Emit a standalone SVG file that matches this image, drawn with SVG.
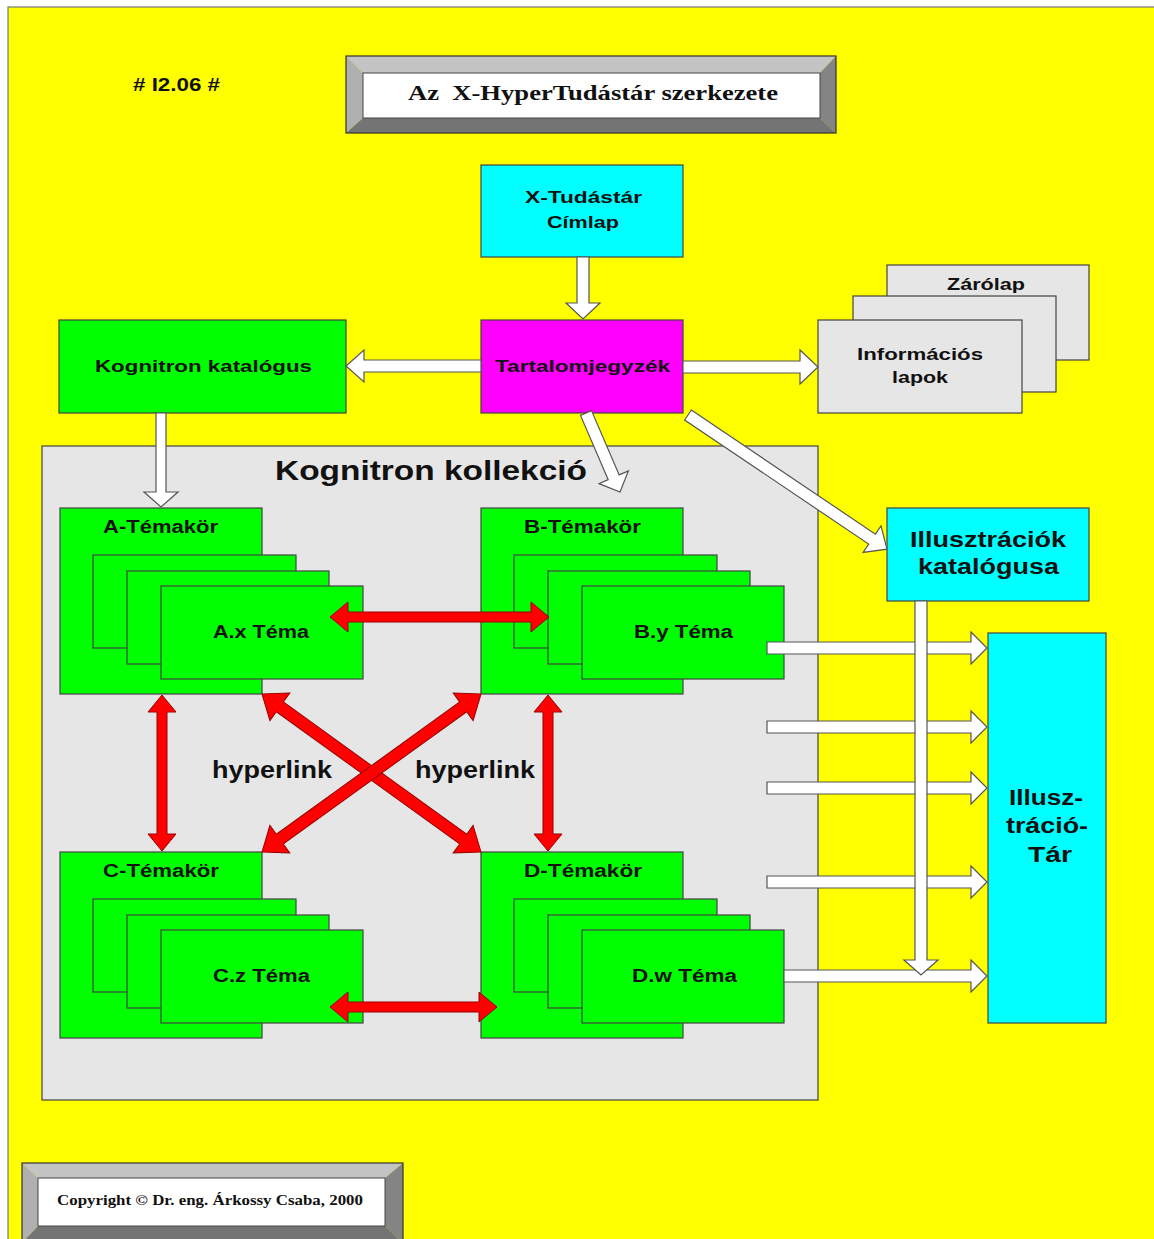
<svg xmlns="http://www.w3.org/2000/svg" width="1154" height="1239" viewBox="0 0 1154 1239">
  <style>
    .lbl { font-family: "Liberation Sans", Arial, sans-serif; font-weight: bold; fill: #111; }
    .ser { font-family: "Liberation Serif", "Times New Roman", serif; font-weight: bold; fill: #111; }
    .box { stroke: #444; stroke-width: 1.2; }
    .green { fill: #00FF00; }
    .cyan { fill: #00FFFF; }
    .mag { fill: #FF00FF; }
    .grey { fill: #E6E6E6; }
    .warr { fill: #FFFFFF; stroke: #555; stroke-width: 1.2; stroke-linejoin: miter; }
    .rarr { fill: #FF0000; stroke: #990000; stroke-width: 1; stroke-linejoin: miter; }
    .bev-t { fill: #C4C4C4; }
    .bev-l { fill: #B0B0B0; }
    .bev-r { fill: #848484; }
    .bev-b { fill: #747474; }
  </style>

  <!-- page -->
  <rect x="8" y="7" width="1152" height="1240" fill="#FFFF00" stroke="#777" stroke-width="1.2"/>

  <text class="lbl" x="133" y="91" font-size="19" textLength="87" lengthAdjust="spacingAndGlyphs">
# I2.06 #</text>

  <!-- title plate -->
  <g id="title">
    <polygon class="bev-t" points="346,56 836,56 820,73 363,73"/>
    <polygon class="bev-l" points="346,56 363,73 363,118 346,133"/>
    <polygon class="bev-r" points="836,56 836,133 820,118 820,73"/>
    <polygon class="bev-b" points="346,133 363,118 820,118 836,133"/>
    <rect x="363" y="73" width="457" height="45" fill="#FFFFFF" stroke="#444" stroke-width="1"/>
    <rect x="346" y="56" width="490" height="77" fill="none" stroke="#333" stroke-width="1.2"/>
    <text class="ser" x="408" y="100" font-size="21" textLength="370" lengthAdjust="spacingAndGlyphs">Az&#160; X-HyperTudástár szerkezete</text>
  </g>

  <g id="cimlap">
    <rect class="box cyan" x="481" y="165" width="202" height="92"/>
    <text class="lbl" x="525" y="203" font-size="17" textLength="117" lengthAdjust="spacingAndGlyphs">X-Tudástár</text>
    <text class="lbl" x="547" y="228" font-size="17" textLength="72" lengthAdjust="spacingAndGlyphs">Címlap</text>
  </g>

  <g id="tartalomjegyzek">
    <rect class="box mag" x="481" y="320" width="202" height="93"/>
    <text class="lbl" x="495" y="372" font-size="17" textLength="175" lengthAdjust="spacingAndGlyphs" fill="#220022">Tartalomjegyzék</text>
  </g>

  <g id="kognitron-katalogus">
    <rect class="box green" x="59" y="320" width="287" height="93"/>
    <text class="lbl" x="95" y="372" font-size="17" textLength="217" lengthAdjust="spacingAndGlyphs">Kognitron katalógus</text>
  </g>

  <g id="informacios-lapok">
    <rect class="box grey" x="887" y="265" width="202" height="95"/>
    <rect class="box grey" x="853" y="296" width="203" height="96"/>
    <rect class="box grey" x="818" y="320" width="204" height="93"/>
    <text class="lbl" x="947" y="290" font-size="17" textLength="78" lengthAdjust="spacingAndGlyphs">Zárólap</text>
    <text class="lbl" x="857" y="360" font-size="17" textLength="126" lengthAdjust="spacingAndGlyphs">Információs</text>
    <text class="lbl" x="892" y="383" font-size="17" textLength="56" lengthAdjust="spacingAndGlyphs">lapok</text>
  </g>

  <g id="illusztraciok-katalogusa">
    <rect class="box cyan" x="887" y="508" width="202" height="93"/>
    <text class="lbl" x="910" y="547" font-size="22" textLength="156" lengthAdjust="spacingAndGlyphs">Illusztrációk</text>
    <text class="lbl" x="918" y="574" font-size="22" textLength="141" lengthAdjust="spacingAndGlyphs">katalógusa</text>
  </g>

  <g id="illusztracio-tar">
    <rect class="box cyan" x="988" y="633" width="118" height="390"/>
    <text class="lbl" x="1009" y="805" font-size="22" textLength="74" lengthAdjust="spacingAndGlyphs">Illusz-</text>
    <text class="lbl" x="1006" y="833" font-size="22" textLength="82" lengthAdjust="spacingAndGlyphs">tráció-</text>
    <text class="lbl" x="1028" y="862" font-size="22" textLength="44" lengthAdjust="spacingAndGlyphs">Tár</text>
  </g>

  <g id="kognitron-kollekcio">
    <rect class="box grey" x="42" y="446" width="776" height="654"/>
    <text class="lbl" x="275" y="480" font-size="28" textLength="312" lengthAdjust="spacingAndGlyphs">Kognitron kollekció</text>
  </g>

  <!-- topic stacks: main card plus three theme sheets -->
  <g id="temakor-a">
    <rect class="box green" x="60" y="508" width="202" height="186"/>
    <rect class="box green" x="93" y="555" width="203" height="93"/>
    <rect class="box green" x="127" y="571" width="202" height="93"/>
    <rect class="box green" x="161" y="586" width="202" height="93"/>
    <text class="lbl" x="103" y="533" font-size="18" textLength="115" lengthAdjust="spacingAndGlyphs">A-Témakör</text>
    <text class="lbl" x="213" y="638" font-size="18" textLength="96" lengthAdjust="spacingAndGlyphs">A.x Téma</text>
  </g>

  <g id="temakor-b">
    <rect class="box green" x="481" y="508" width="202" height="186"/>
    <rect class="box green" x="514" y="555" width="203" height="93"/>
    <rect class="box green" x="548" y="571" width="202" height="93"/>
    <rect class="box green" x="582" y="586" width="202" height="93"/>
    <text class="lbl" x="524" y="533" font-size="18" textLength="117" lengthAdjust="spacingAndGlyphs">B-Témakör</text>
    <text class="lbl" x="634" y="638" font-size="18" textLength="99" lengthAdjust="spacingAndGlyphs">B.y Téma</text>
  </g>

  <g id="temakor-c">
    <rect class="box green" x="60" y="852" width="202" height="186"/>
    <rect class="box green" x="93" y="899" width="203" height="93"/>
    <rect class="box green" x="127" y="915" width="202" height="93"/>
    <rect class="box green" x="161" y="930" width="202" height="93"/>
    <text class="lbl" x="103" y="877" font-size="18" textLength="116" lengthAdjust="spacingAndGlyphs">C-Témakör</text>
    <text class="lbl" x="213" y="982" font-size="18" textLength="97" lengthAdjust="spacingAndGlyphs">C.z Téma</text>
  </g>

  <g id="temakor-d">
    <rect class="box green" x="481" y="852" width="202" height="186"/>
    <rect class="box green" x="514" y="899" width="203" height="93"/>
    <rect class="box green" x="548" y="915" width="202" height="93"/>
    <rect class="box green" x="582" y="930" width="202" height="93"/>
    <text class="lbl" x="524" y="877" font-size="18" textLength="118" lengthAdjust="spacingAndGlyphs">D-Témakör</text>
    <text class="lbl" x="632" y="982" font-size="18" textLength="105" lengthAdjust="spacingAndGlyphs">D.w Téma</text>
  </g>

  <!-- connectors -->
  <g id="connectors">
    <!-- white block arrows -->
    <polygon class="warr" points="577,257 589,257 589,303 600,303 583,319 566,303 577,303"/>
    <polygon class="warr" points="481,360 364,360 364,350 346,366 364,382 364,372 481,372"/>
    <polygon class="warr" points="683,361 800,361 800,350 818,367 800,384 800,373 683,373"/>
    <polygon class="warr" points="156,413 166,413 166,492 178,492 161,507 144,492 156,492"/>
    <path class="warr" transform="translate(586,413) rotate(66.7)" d="M0,-6 L70,-6 L70,-16 L86,0 L70,16 L70,6 L0,6 Z"/>
    <path class="warr" transform="translate(688,415) rotate(34)" d="M0,-6 L222,-6 L222,-16 L240,0 L222,16 L222,6 L0,6 Z"/>
    <polygon class="warr" points="767,642 971,642 971,632 987,648 971,664 971,654 767,654"/>
    <polygon class="warr" points="767,721 971,721 971,711 987,727 971,743 971,733 767,733"/>
    <polygon class="warr" points="767,782 971,782 971,772 987,788 971,804 971,794 767,794"/>
    <polygon class="warr" points="767,876 971,876 971,866 987,882 971,898 971,888 767,888"/>
    <polygon class="warr" points="784,970 971,970 971,960 987,976 971,992 971,982 784,982"/>
    <polygon class="warr" points="915,601 927,601 927,960 938,960 921,975 904,960 915,960"/>

    <!-- red hyperlink arrows -->
    <path class="rarr" transform="translate(330,617)" d="M0,0 L18,-15 L18,-5 L201,-5 L201,-15 L219,0 L201,15 L201,5 L18,5 L18,15 Z"/>
    <path class="rarr" transform="translate(330,1007)" d="M0,0 L18,-15 L18,-5 L149,-5 L149,-15 L167,0 L149,15 L149,5 L18,5 L18,15 Z"/>
    <path class="rarr" transform="translate(162,695) rotate(90)" d="M0,0 L17,-14 L17,-5 L139,-5 L139,-14 L156,0 L139,14 L139,5 L17,5 L17,14 Z"/>
    <path class="rarr" transform="translate(548,695) rotate(90)" d="M0,0 L17,-14 L17,-5 L139,-5 L139,-14 L156,0 L139,14 L139,5 L17,5 L17,14 Z"/>
    <path class="rarr" transform="translate(262,694) rotate(35.8)" d="M0,0 L22,-17 L22,-6 L248,-6 L248,-17 L270,0 L248,17 L248,6 L22,6 L22,17 Z"/>
    <path class="rarr" transform="translate(481,694) rotate(144.2)" d="M0,0 L22,-17 L22,-6 L248,-6 L248,-17 L270,0 L248,17 L248,6 L22,6 L22,17 Z"/>
  </g>

  <text class="lbl" x="212" y="778" font-size="23" textLength="120" lengthAdjust="spacingAndGlyphs">hyperlink</text>
  <text class="lbl" x="415" y="778" font-size="23" textLength="120" lengthAdjust="spacingAndGlyphs">hyperlink</text>

  <!-- copyright plate -->
  <g id="copyright">
    <polygon class="bev-t" points="22,1163 403,1163 385,1178 38,1178"/>
    <polygon class="bev-l" points="22,1163 38,1178 38,1226 22,1243"/>
    <polygon class="bev-r" points="403,1163 403,1243 385,1226 385,1178"/>
    <polygon class="bev-b" points="22,1243 38,1226 385,1226 403,1243"/>
    <rect x="38" y="1178" width="347" height="48" fill="#FFFFFF" stroke="#444" stroke-width="1"/>
    <rect x="22" y="1163" width="381" height="80" fill="none" stroke="#333" stroke-width="1.2"/>
    <text class="ser" x="57" y="1205" font-size="15" textLength="306" lengthAdjust="spacingAndGlyphs">Copyright © Dr. eng. Árkossy Csaba, 2000</text>
  </g>
</svg>
